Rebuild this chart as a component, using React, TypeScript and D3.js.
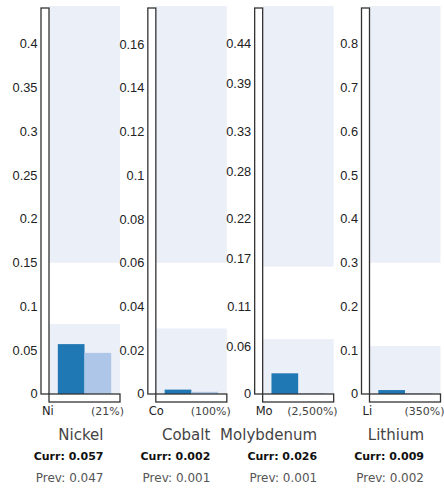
import React from "react";
import * as d3 from "d3";

const symbols = ["Ni", "Co", "Mo", "Li"];
const names = ["Nickel", "Cobalt", "Molybdenum", "Lithium"];
const currValues = [0.057, 0.002, 0.026, 0.009];
const prevValues = [0.047, 0.001, 0.001, 0.002];
const changeLabels = ["(21%)", "(100%)", "(2,500%)", "(350%)"];
const domainMax = [0.4434, 0.1774, 0.4877, 0.8869];
const lowBandTop = [0.08, 0.03, 0.069, 0.11];
const highBandBottom = [0.15, 0.06, 0.16, 0.3];
const tickValues: number[][] = [
  [0, 0.05, 0.1, 0.15, 0.2, 0.25, 0.3, 0.35, 0.4],
  [0, 0.02, 0.04, 0.06, 0.08, 0.1, 0.12, 0.14, 0.16],
  [0, 0.06, 0.11, 0.17, 0.22, 0.28, 0.33, 0.39, 0.44],
  [0, 0.1, 0.2, 0.3, 0.4, 0.5, 0.6, 0.7, 0.8],
];
const seriesKeys = ["curr", "prev"];

const W = 444;
const H = 488;
const panelScale = d3.scaleLinear().domain([0, 3]).range([41, 361.5]);
const axisW = 8;
const plotW = 71;
const yBottom = 394;
const yTop = 6;
const fmt = (v: number) => String(+v.toFixed(3));

function Panel({ i }: { i: number }) {
  const x0 = panelScale(i);
  const px0 = x0 + axisW;
  const px1 = px0 + plotW;
  const y = d3.scaleLinear().domain([0, domainMax[i]]).range([yBottom, yTop]);
  const xb = d3
    .scaleBand<string>()
    .domain(seriesKeys)
    .range([px0, px1])
    .paddingInner(0)
    .paddingOuter(0.33);
  const vals = [currValues[i], prevValues[i]];
  const colors = ["#1f77b4", "#aec7e8"];
  const textRight = x0 + 62.5;
  return (
    <g>
      <rect x={px0} y={y(domainMax[i])} width={plotW} height={y(highBandBottom[i]) - y(domainMax[i])} fill="#ebeff7" />
      <rect x={px0} y={y(lowBandTop[i])} width={plotW} height={y(0) - y(lowBandTop[i])} fill="#ebeff7" />
      {seriesKeys.map((k, j) => (
        <rect key={k} x={xb(k)} y={y(vals[j])} width={xb.bandwidth()} height={y(0) - y(vals[j])} fill={colors[j]} />
      ))}
      <rect x={x0} y={8} width={axisW} height={yBottom - 8} fill="white" stroke="#333" strokeWidth={1.3} />
      <rect x={px0} y={yBottom} width={plotW} height={8} fill="white" stroke="#333" strokeWidth={1.3} />
      {tickValues[i].map((t) => (
        <text key={t} x={x0 - 3.5} y={y(t)} dy="0.35em" textAnchor="end" fontFamily="Liberation Sans, Arial, sans-serif" fontSize={12.8} fill="#222">
          {fmt(t)}
        </text>
      ))}
      <text x={x0 + 1} y={415} fontFamily="DejaVu Sans" fontSize={11.5} fill="#222">{symbols[i]}</text>
      <text x={px1 + 4} y={415} textAnchor="end" fontFamily="DejaVu Sans" fontSize={11} fill="#444">{changeLabels[i]}</text>
      <text x={textRight} y={440} textAnchor="end" fontFamily="DejaVu Sans" fontSize={15} fill="#444">{names[i]}</text>
      <text x={textRight} y={460} textAnchor="end" fontFamily="DejaVu Sans" fontWeight="bold" fontSize={11} fill="#111">
        {"Curr: " + currValues[i].toFixed(3)}
      </text>
      <text x={textRight} y={481.5} textAnchor="end" fontFamily="DejaVu Sans" fontSize={12} fill="#555">
        {"Prev: " + prevValues[i].toFixed(3)}
      </text>
    </g>
  );
}

export default function App() {
  return (
    <svg width={W} height={H} style={{ position: "absolute", left: 0, top: 0 }}>
      <rect width={W} height={H} fill="white" />
      {symbols.map((s, i) => (
        <Panel key={s} i={i} />
      ))}
    </svg>
  );
}
